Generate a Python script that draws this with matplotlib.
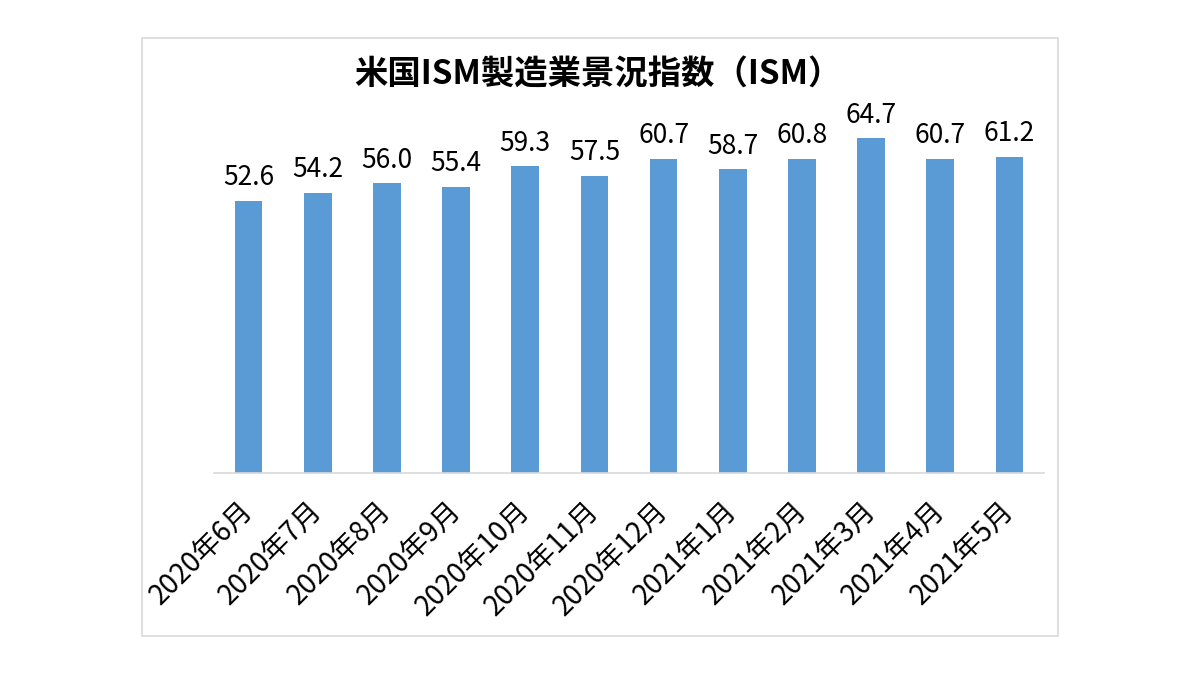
import matplotlib
matplotlib.use('Agg')
import matplotlib.pyplot as plt
from matplotlib.patches import Rectangle

plt.rcParams['font.family'] = ['Noto Sans CJK JP', 'DejaVu Sans']

months = ['2020年6月', '2020年7月', '2020年8月', '2020年9月', '2020年10月', '2020年11月',
          '2020年12月', '2021年1月', '2021年2月', '2021年3月', '2021年4月', '2021年5月']
ism = [52.6, 54.2, 56.0, 55.4, 59.3, 57.5, 60.7, 58.7, 60.8, 64.7, 60.7, 61.2]
title = '米国ISM製造業景況指数（ISM）'

bar_color = '#5B9BD5'

fig = plt.figure(figsize=(12, 6.75), dpi=100)
fig.patch.set_facecolor('white')

# chart frame like the spreadsheet chart area
fig.patches.append(Rectangle((142 / 1200, 1 - 636 / 675), 916 / 1200, 598 / 675,
                             transform=fig.transFigure, fill=False,
                             edgecolor='#d9d9d9', linewidth=1.2))

ax = fig.add_axes([214 / 1200, 202 / 675, 830 / 1200, 362 / 675])
x = range(len(months))
bars = ax.bar(x, ism, width=0.4, color=bar_color)
for rect, v in zip(bars, ism):
    ax.annotate(f'{v:.1f}', (rect.get_x() + rect.get_width() / 2, v),
                xytext=(0, 7), textcoords='offset points',
                ha='center', va='bottom', fontsize=19)

ax.set_xlim(-0.5, len(months) - 0.5)
ax.set_ylim(0, 70)
ax.set_yticks([])
for s in ['top', 'right', 'left']:
    ax.spines[s].set_visible(False)
ax.spines['bottom'].set_color('#d9d9d9')
ax.spines['bottom'].set_linewidth(1.2)

ax.set_xticks(list(x))
ax.set_xticklabels(months, rotation=45, ha='right', va='center',
                   rotation_mode='anchor', fontsize=20)
ax.tick_params(axis='x', length=0, pad=24)

fig.text(0.498, 1 - 74 / 675, title, ha='center', va='center',
         fontsize=24, fontweight='bold')

fig.savefig('out.png', dpi=100, facecolor='white')
